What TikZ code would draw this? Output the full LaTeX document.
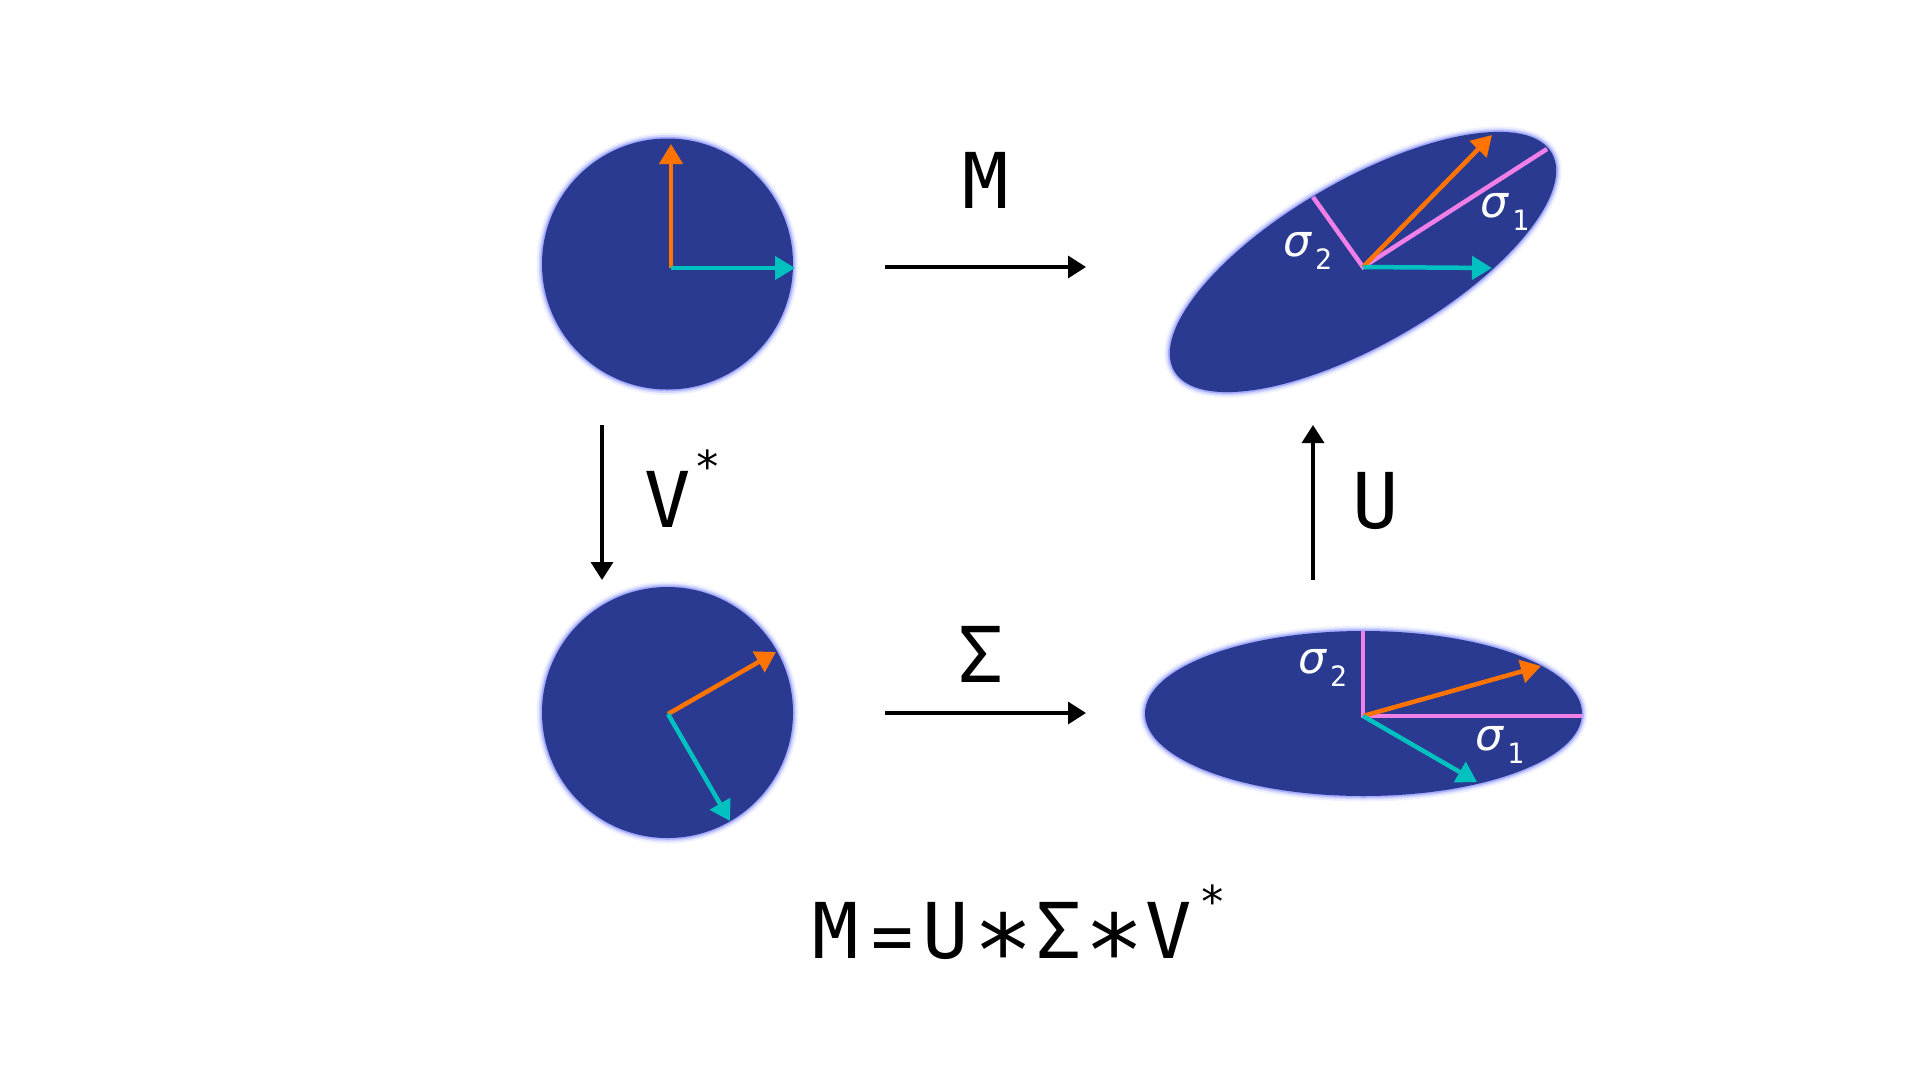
\documentclass[tikz,border=0pt]{standalone}
\usepackage{fontspec}
\setmainfont{DejaVu Sans Mono}
\newfontfamily\sigfont{DejaVu Sans}
\usetikzlibrary{arrows.meta}
\definecolor{blob}{RGB}{43,58,145}
\definecolor{glow}{RGB}{130,140,255}
\definecolor{vorange}{RGB}{255,115,0}
\definecolor{vcyan}{RGB}{0,192,192}
\definecolor{vpink}{RGB}{240,128,232}
\tikzset{
  blobshape/.style={fill=blob,
    preaction={draw=glow,line width=11pt,draw opacity=0.12},
    preaction={draw=glow,line width=7pt,draw opacity=0.25},
    preaction={draw=glow,line width=3.5pt,draw opacity=0.55}},
  vec/.style={line width=4.5pt,-{Triangle[length=20pt,width=23pt]}},
  ovec/.style={vec,draw=vorange,fill=vorange},
  cvec/.style={vec,draw=vcyan,fill=vcyan},
  axisline/.style={draw=vpink,line width=4.5pt},
  maparrow/.style={line width=3.5pt,-{Triangle[length=18pt,width=22pt]}},
  biglabel/.style={inner sep=0pt,anchor=base,font=\fontsize{77}{84}\selectfont},
  eqsign/.style={inner sep=0pt,anchor=base,font=\fontsize{70}{78}\selectfont},
  bigstar/.style={inner sep=0pt,anchor=north,font=\fontsize{100}{110}\selectfont},
  supstar/.style={inner sep=0pt,anchor=north,font=\fontsize{44}{48}\selectfont},
  siglabel/.style={inner sep=0pt,anchor=base west,text=white}
}
\newcommand\sigmalabel[1]{{\sigfont\itshape\fontsize{44}{48}\selectfont σ}\hspace{4pt}\raisebox{-13pt}{\fontsize{28}{32}\selectfont #1}}
\begin{document}
\begin{tikzpicture}[x=1pt,y=-1pt]
\useasboundingbox[fill=white] (0,0) rectangle (1920,1080);

% shapes
\path[blobshape] (667.5,264) circle [radius=125.5];
\path[blobshape] (667.5,712.5) circle [radius=125.5];
\path[blobshape,rotate around={30:(1363,262)}] (1363,262) ellipse [x radius=218, y radius=82];
\path[blobshape] (1363.5,713.5) ellipse [x radius=218.5, y radius=82.5];

% coordinates
\coordinate (o1) at (671,268);
\coordinate (o1a) at (671,144);
\coordinate (o1b) at (795,268);
\coordinate (o2) at (668,714);
\coordinate (o2a) at (776,652);
\coordinate (o2b) at (730,821);
\coordinate (o3) at (1363,267);
\coordinate (o3a) at (1492,135);
\coordinate (o3b) at (1492,268);
\coordinate (o3s1) at (1547,149);
\coordinate (o3s2) at (1313,197);
\coordinate (o4) at (1363,716);
\coordinate (o4a) at (1541,666);
\coordinate (o4b) at (1477,782);
\coordinate (o4s1) at (1582,716);
\coordinate (o4s2) at (1363,631);

% pink axes
\draw[axisline] (o3s2) -- (o3) -- (o3s1);
\draw[axisline] (o4s2) -- (o4) -- (o4s1);

% vectors
\draw[ovec] (o1) -- (o1a);
\draw[cvec] (o1) -- (o1b);
\draw[ovec] (o2) -- (o2a);
\draw[cvec] (o2) -- (o2b);
\draw[ovec] (o3) -- (o3a);
\draw[cvec] (o3) -- (o3b);
\draw[ovec] (o4) -- (o4a);
\draw[cvec] (o4) -- (o4b);

% sigma labels
\node[siglabel] (s1t) at (1480,217) {\sigmalabel{1}};
\node[siglabel] (s2t) at (1283,256) {\sigmalabel{2}};
\node[siglabel] (s2b) at (1298,673) {\sigmalabel{2}};
\node[siglabel] (s1b) at (1475,750) {\sigmalabel{1}};

% map arrows
\coordinate (mA) at (885,267);
\coordinate (mB) at (1086,267);
\coordinate (sA) at (885,713);
\coordinate (sB) at (1086,713);
\coordinate (vA) at (602,425);
\coordinate (vB) at (602,580);
\coordinate (uA) at (1313,580);
\coordinate (uB) at (1313,425);
\draw[maparrow] (mA) -- (mB);
\draw[maparrow] (sA) -- (sB);
\draw[maparrow] (vA) -- (vB);
\draw[maparrow] (uA) -- (uB);

% map labels
\node[biglabel] (lM) at (986,208) {M};
\node[biglabel] (lS) at (981,682) {Σ};
\node[biglabel] (lV) at (667.5,527) {V};
\node[supstar] (lVs) at (707.5,450) {*};
\node[biglabel] (lU) at (1375.5,528) {U};

% equation
\node[biglabel] (eM) at (835.5,958) {M};
\node[eqsign] (eEq) at (892.5,960) {=};
\node[biglabel] (eU) at (945.5,958) {U};
\node[bigstar] (eS1) at (1004,912) {*};
\node[biglabel] (eSig) at (1059,958) {Σ};
\node[bigstar] (eS2) at (1115,912) {*};
\node[biglabel] (eV) at (1169,958) {V};
\node[supstar] (eVs) at (1213,885) {*};
\end{tikzpicture}
\end{document}
